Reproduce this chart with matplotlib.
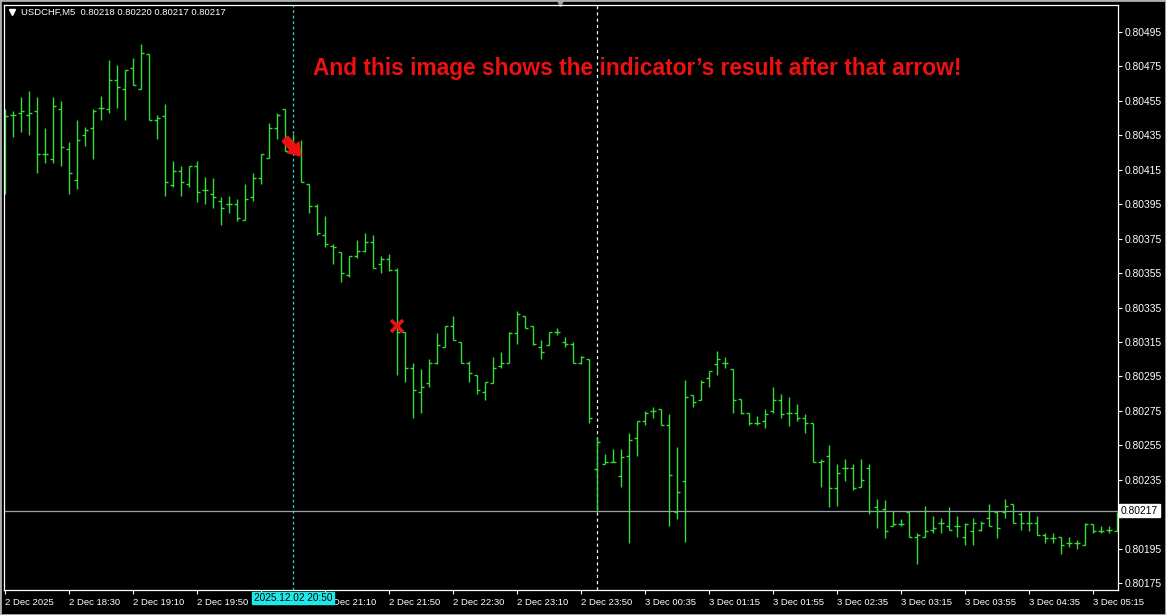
import matplotlib
matplotlib.use("Agg")
import matplotlib.pyplot as plt
from matplotlib.patches import Rectangle
from matplotlib.transforms import blended_transform_factory

# ---- data (USDCHF M5 bars) ----
opens = [0.80448, 0.80447, 0.80448, 0.80447, 0.80449, 0.80424, 0.80421, 0.80450, 0.80427, 0.80409,
         0.80435, 0.80439, 0.80451, 0.80450, 0.80467, 0.80462, 0.80474, 0.80462, 0.80482, 0.80444,
         0.80446, 0.80406, 0.80414, 0.80407, 0.80417, 0.80403, 0.80401, 0.80397, 0.80395, 0.80395,
         0.80386, 0.80399, 0.80410, 0.80422, 0.80439, 0.80450, 0.80426, 0.80426, 0.80407, 0.80394,
         0.80377, 0.80371, 0.80367, 0.80354, 0.80365, 0.80368, 0.80373, 0.80360, 0.80363, 0.80357,
         0.80321, 0.80300, 0.80286, 0.80291, 0.80303, 0.80312, 0.80324, 0.80315, 0.80303, 0.80296,
         0.80286, 0.80291, 0.80301, 0.80303, 0.80320, 0.80330, 0.80324, 0.80312, 0.80313, 0.80321,
         0.80315, 0.80314, 0.80303, 0.80305, 0.80241, 0.80244, 0.80245, 0.80237, 0.80249, 0.80259,
         0.80269, 0.80275, 0.80276, 0.80267, 0.80216, 0.80234, 0.80284, 0.80281, 0.80294, 0.80302,
         0.80303, 0.80299, 0.80282, 0.80274, 0.80268, 0.80269, 0.80275, 0.80281, 0.80274, 0.80274,
         0.80271, 0.80268, 0.80245, 0.80249, 0.80230, 0.80242, 0.80242, 0.80231, 0.80242, 0.80219,
         0.80218, 0.80208, 0.80209, 0.80216, 0.80202, 0.80202, 0.80206, 0.80210, 0.80208, 0.80208,
         0.80202, 0.80205, 0.80206, 0.80213, 0.80216, 0.80216, 0.80221, 0.80215, 0.80210, 0.80210,
         0.80203, 0.80201, 0.80202, 0.80198, 0.80198, 0.80197, 0.80209, 0.80205, 0.80206, 0.80205]
highs = [0.80450, 0.80449, 0.80457, 0.80461, 0.80457, 0.80439, 0.80457, 0.80455, 0.80431, 0.80444,
         0.80440, 0.80450, 0.80458, 0.80479, 0.80476, 0.80473, 0.80480, 0.80488, 0.80482, 0.80447,
         0.80453, 0.80420, 0.80417, 0.80417, 0.80420, 0.80411, 0.80410, 0.80399, 0.80400, 0.80398,
         0.80407, 0.80413, 0.80424, 0.80442, 0.80448, 0.80450, 0.80436, 0.80432, 0.80407, 0.80395,
         0.80388, 0.80372, 0.80367, 0.80365, 0.80374, 0.80378, 0.80377, 0.80365, 0.80366, 0.80358,
         0.80321, 0.80303, 0.80299, 0.80305, 0.80320, 0.80324, 0.80330, 0.80315, 0.80304, 0.80296,
         0.80292, 0.80306, 0.80309, 0.80321, 0.80333, 0.80330, 0.80324, 0.80316, 0.80321, 0.80323,
         0.80318, 0.80315, 0.80307, 0.80305, 0.80260, 0.80250, 0.80253, 0.80253, 0.80262, 0.80269,
         0.80275, 0.80277, 0.80276, 0.80273, 0.80254, 0.80293, 0.80284, 0.80293, 0.80298, 0.80310,
         0.80306, 0.80299, 0.80282, 0.80274, 0.80272, 0.80276, 0.80289, 0.80285, 0.80283, 0.80279,
         0.80273, 0.80268, 0.80247, 0.80255, 0.80244, 0.80247, 0.80244, 0.80247, 0.80244, 0.80224,
         0.80223, 0.80217, 0.80212, 0.80216, 0.80204, 0.80220, 0.80214, 0.80213, 0.80219, 0.80214,
         0.80210, 0.80213, 0.80211, 0.80221, 0.80217, 0.80224, 0.80221, 0.80216, 0.80217, 0.80214,
         0.80204, 0.80204, 0.80202, 0.80202, 0.80200, 0.80210, 0.80209, 0.80208, 0.80208, 0.80216]
lows = [0.80401, 0.80434, 0.80437, 0.80435, 0.80413, 0.80419, 0.80419, 0.80417, 0.80401, 0.80404,
        0.80429, 0.80421, 0.80444, 0.80448, 0.80451, 0.80444, 0.80464, 0.80462, 0.80444, 0.80433,
        0.80400, 0.80405, 0.80400, 0.80405, 0.80396, 0.80395, 0.80393, 0.80383, 0.80390, 0.80385,
        0.80386, 0.80397, 0.80407, 0.80422, 0.80433, 0.80426, 0.80424, 0.80408, 0.80390, 0.80377,
        0.80370, 0.80360, 0.80350, 0.80353, 0.80364, 0.80367, 0.80358, 0.80355, 0.80356, 0.80296,
        0.80292, 0.80271, 0.80274, 0.80289, 0.80302, 0.80312, 0.80316, 0.80303, 0.80292, 0.80285,
        0.80281, 0.80291, 0.80300, 0.80303, 0.80314, 0.80323, 0.80313, 0.80305, 0.80313, 0.80319,
        0.80312, 0.80303, 0.80302, 0.80268, 0.80216, 0.80244, 0.80245, 0.80231, 0.80198, 0.80249,
        0.80267, 0.80271, 0.80267, 0.80208, 0.80212, 0.80199, 0.80277, 0.80281, 0.80289, 0.80296,
        0.80300, 0.80274, 0.80273, 0.80267, 0.80267, 0.80265, 0.80274, 0.80271, 0.80266, 0.80269,
        0.80262, 0.80245, 0.80231, 0.80219, 0.80220, 0.80234, 0.80229, 0.80231, 0.80215, 0.80207,
        0.80201, 0.80208, 0.80208, 0.80202, 0.80186, 0.80202, 0.80204, 0.80204, 0.80206, 0.80202,
        0.80197, 0.80197, 0.80205, 0.80208, 0.80201, 0.80213, 0.80210, 0.80206, 0.80205, 0.80203,
        0.80198, 0.80198, 0.80192, 0.80196, 0.80195, 0.80197, 0.80204, 0.80204, 0.80204, 0.80205]
closes = [0.80446, 0.80447, 0.80449, 0.80448, 0.80424, 0.80424, 0.80452, 0.80428, 0.80413, 0.80432,
          0.80438, 0.80449, 0.80451, 0.80467, 0.80463, 0.80473, 0.80464, 0.80483, 0.80444, 0.80445,
          0.80408, 0.80414, 0.80408, 0.80417, 0.80402, 0.80403, 0.80399, 0.80393, 0.80395, 0.80387,
          0.80398, 0.80410, 0.80424, 0.80439, 0.80447, 0.80426, 0.80426, 0.80408, 0.80394, 0.80378,
          0.80372, 0.80370, 0.80355, 0.80365, 0.80368, 0.80373, 0.80358, 0.80363, 0.80357, 0.80321,
          0.80300, 0.80287, 0.80289, 0.80303, 0.80313, 0.80324, 0.80316, 0.80303, 0.80297, 0.80287,
          0.80292, 0.80300, 0.80303, 0.80320, 0.80331, 0.80323, 0.80314, 0.80309, 0.80321, 0.80321,
          0.80314, 0.80303, 0.80306, 0.80271, 0.80257, 0.80245, 0.80245, 0.80248, 0.80258, 0.80269,
          0.80274, 0.80275, 0.80267, 0.80238, 0.80228, 0.80283, 0.80280, 0.80292, 0.80298, 0.80305,
          0.80303, 0.80281, 0.80274, 0.80268, 0.80268, 0.80273, 0.80281, 0.80273, 0.80274, 0.80271,
          0.80268, 0.80245, 0.80246, 0.80230, 0.80239, 0.80242, 0.80230, 0.80235, 0.80217, 0.80217,
          0.80205, 0.80209, 0.80209, 0.80202, 0.80203, 0.80205, 0.80207, 0.80210, 0.80206, 0.80208,
          0.80209, 0.80210, 0.80210, 0.80208, 0.80207, 0.80220, 0.80210, 0.80210, 0.80210, 0.80203,
          0.80201, 0.80201, 0.80197, 0.80198, 0.80198, 0.80209, 0.80205, 0.80205, 0.80206, 0.80217]

x_tick_bars = [0, 8, 16, 24, 32, 40, 48, 56, 64, 72, 80, 88, 96, 104, 112, 120, 128, 136]
# the 20:30 label is hidden under the highlighted signal-time box in the reference
x_tick_labels = ["2 Dec 2025", "2 Dec 18:30", "2 Dec 19:10", "2 Dec 19:50", "",
                 "2 Dec 21:10", "2 Dec 21:50", "2 Dec 22:30", "2 Dec 23:10", "2 Dec 23:50",
                 "3 Dec 00:35", "3 Dec 01:15", "3 Dec 01:55", "3 Dec 02:35", "3 Dec 03:15",
                 "3 Dec 03:55", "3 Dec 04:35", "3 Dec 05:15"]
y_ticks = [0.80175, 0.80195, 0.80215, 0.80235, 0.80255, 0.80275, 0.80295, 0.80315, 0.80335,
           0.80355, 0.80375, 0.80395, 0.80415, 0.80435, 0.80455, 0.80475, 0.80495]
y_tick_labels = ["%.5f" % v for v in y_ticks]

bid_price = 0.80217
header = "USDCHF,M5  0.80218 0.80220 0.80217 0.80217"
note = "And this image shows the indicator\u2019s result after that arrow!"
signal_bar = 36
separator_bar = 74
signal_label = "2025.12.02 20:50"
arrow_from = (35.0, 0.80433)
arrow_to = (37.0, 0.80423)
cross_point = (49, 0.80324)

# ---- drawing ----
W, H = 1166, 615
fig = plt.figure(figsize=(W / 100, H / 100), dpi=100, facecolor="black")
L, R, T, B = 4, 1118, 5, 590
ax = fig.add_axes([L / W, 1 - B / H, (R - L) / W, (B - T) / H], facecolor="black")

green = "#36dc36"
idx = list(range(len(opens)))
ax.vlines(idx, lows, highs, colors=green, linewidth=1.0)
ax.hlines(opens, [i - 0.36 for i in idx], idx, colors=green, linewidth=1.0)
ax.hlines(closes, idx, [i + 0.36 for i in idx], colors=green, linewidth=1.0)

ax.set_xlim(-0.125, 139.125)
ax.set_ylim(0.8017094, 0.8051068)

ax.axhline(bid_price, color="#98a2b0", linewidth=0.9, zorder=1)
ax.axvline(signal_bar, color="#3ccdd0", linewidth=0.9, linestyle=(0, (2.2, 2.2)), zorder=0.5)
ax.axvline(separator_bar, color="white", linewidth=0.9, linestyle=(0, (2.5, 2.5)), zorder=0.5)

font = ["Liberation Sans", "DejaVu Sans"]
ax.set_xticks(x_tick_bars)
ax.set_xticklabels(x_tick_labels, ha="left", fontsize=6.8, color="white", family=font)
ax.yaxis.tick_right()
ax.set_yticks(y_ticks)
ax.set_yticklabels(y_tick_labels, fontsize=7.4, color="white", family=font)
ax.tick_params(axis="x", colors="white", length=3, width=0.8, pad=2.5, direction="out")
ax.tick_params(axis="y", colors="white", length=3, width=0.8, pad=2, direction="out")
for s in ax.spines.values():
    s.set_color("white")
    s.set_linewidth(0.9)

# current price box
tr_y = blended_transform_factory(ax.transAxes, ax.transData)
ax.text(1.0 + 3 / (R - L), bid_price, "%.5f" % bid_price, transform=tr_y, fontsize=7.4,
        family=font, color="black", va="center", ha="left", clip_on=False, zorder=10,
        bbox=dict(boxstyle="square,pad=0.15", facecolor="white", edgecolor="white"))

# signal time label
tr_x = blended_transform_factory(ax.transData, ax.transAxes)
ax.text(signal_bar, -3 / (B - T), signal_label, transform=tr_x, fontsize=7.2, family=font,
        color="black", va="top", ha="center", clip_on=False, zorder=10,
        bbox=dict(boxstyle="square,pad=0.14", facecolor="#1ee8e8", edgecolor="#1ee8e8"))

# indicator marks
ax.annotate("", xy=arrow_to, xytext=arrow_from,
            arrowprops=dict(arrowstyle="simple,head_length=0.7,head_width=0.95,tail_width=0.45",
                            color="#ee1111", mutation_scale=12, shrinkA=0, shrinkB=0), zorder=6)
ax.plot(*cross_point, marker="x", color="#ee1111", markersize=8, markeredgewidth=2.6, zorder=6)

# header and note
fig.text(21 / W, 1 - 12 / H, header, fontsize=6.8, family=font, color="white", va="center", ha="left")
ax.plot((12 - L) / (R - L), 1 - (12 - T) / (B - T), marker="v", color="white", markersize=4,
        transform=ax.transAxes, clip_on=False)
ax.plot((560 - L) / (R - L), 1 - (2 - T) / (B - T), marker="v", color="#9a9a9a", markersize=6,
        transform=ax.transAxes, clip_on=False)
fig.text(313 / W, 1 - 68 / H, note, fontsize=16.4, fontweight="bold", family=font,
         color="#ee1111", va="center", ha="left")

fig.patches.append(Rectangle((0, 0), 1, 1, transform=fig.transFigure, fill=False,
                             edgecolor="#b0b0b0", linewidth=2))

fig.savefig("out.png", dpi=100, facecolor="black")
